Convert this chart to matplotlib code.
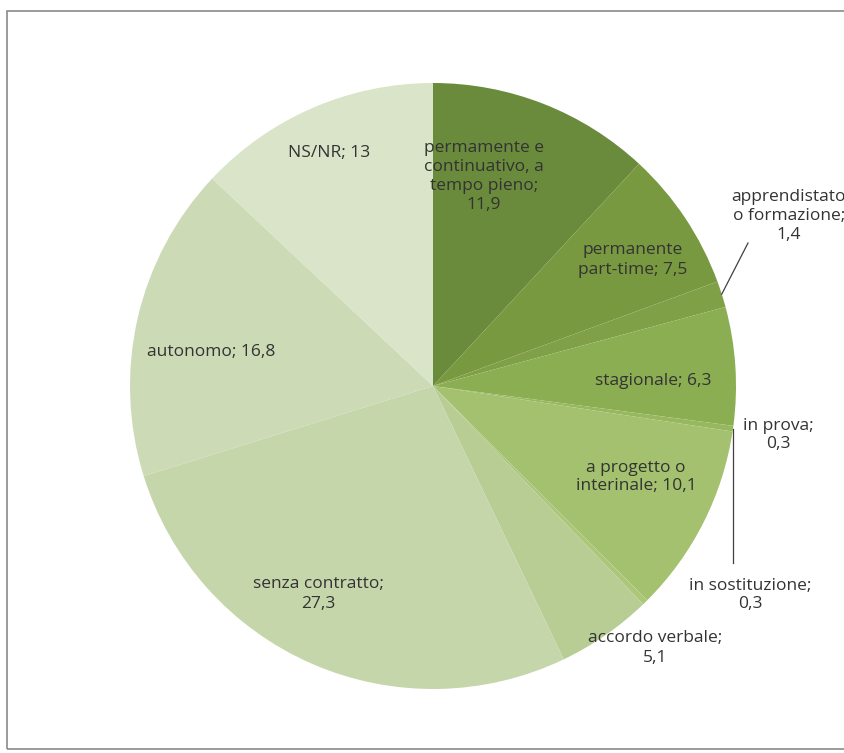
import numpy as np
import matplotlib.pyplot as plt
from matplotlib.patches import Rectangle

labels = ["permamente e\ncontinuativo, a\ntempo pieno;\n11,9",
          "permanente\npart-time; 7,5",
          "apprendistato\no formazione;\n1,4",
          "stagionale; 6,3",
          "in prova;\n0,3",
          "a progetto o\ninterinale; 10,1",
          "in sostituzione;\n0,3",
          "accordo verbale;\n5,1",
          "senza contratto;\n27,3",
          "autonomo; 16,8",
          "NS/NR; 13"]
values = [11.9, 7.5, 1.4, 6.3, 0.3, 10.1, 0.3, 5.1, 27.3, 16.8, 13]
colors = ["#6a8a3c", "#789940", "#80a047", "#8cae52", "#98b860", "#a3c16e",
          "#acc67a", "#b7cd93", "#c6d6ab", "#ccdab6", "#d9e4c8"]

# label positions in pixels (x from left, y from top)
label_pos = [(484, 176), (633, 260), (789, 216), (653, 381), (778, 435),
             (636, 477), (750, 595), (655, 648), (318, 594), (211, 352), (329, 153)]

W, H = 845, 753
cx, cy, r = 433, 386, 303

fig = plt.figure(figsize=(W / 100, H / 100), dpi=100)
ax = fig.add_axes([0, 0, 1, 1])

wedges, _ = ax.pie(values, colors=colors, startangle=90, counterclock=False,
                   center=(cx, H - cy), radius=r, frame=True,
                   wedgeprops=dict(linewidth=0))
ax.set_xlim(0, W)
ax.set_ylim(0, H)
ax.set_aspect("equal")
ax.axis("off")

for lab, (px, py) in zip(labels, label_pos):
    ax.text(px, H - py, lab, ha="center", va="center", fontsize=12.5,
            color="#333333", family="Open Sans", linespacing=1.25)

# leader lines: from the small slices to their labels
def edge_point(i, frac=1.0):
    w = wedges[i]
    a = np.deg2rad((w.theta1 + w.theta2) / 2)
    return cx + frac * r * np.cos(a), H - cy + frac * r * np.sin(a)

x0, y0 = edge_point(2)
ax.plot([x0, 748], [y0, H - 243], color="#404040", lw=0.9)
x0, y0 = edge_point(4)
ax.plot([733, 733], [y0, H - 563], color="#404040", lw=0.9)

# outer frame
fig.patches.append(Rectangle((7 / W, 4 / H), 1.2, (H - 15) / H,
                             transform=fig.transFigure, fill=False,
                             edgecolor="#8a8a8a", lw=1.2))

fig.savefig("out.png", dpi=100)
